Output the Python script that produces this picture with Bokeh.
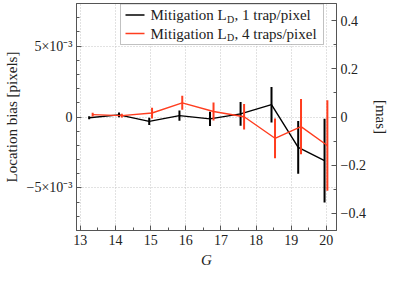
from bokeh.plotting import figure
from bokeh.models import (ColumnDataSource, Range1d, LinearAxis, SingleIntervalTicker,
                          CustomJSTickFormatter, BoxAnnotation, Label)
from bokeh.embed import file_html
from bokeh.resources import INLINE

# ---- data ----
g_1trap = [13.25, 14.10, 14.96, 15.82, 16.69, 17.56, 18.44, 19.20, 19.95]
bias_1trap = [-0.05e-3, 0.15e-3, -0.31e-3, 0.10e-3, -0.13e-3, 0.22e-3, 0.87e-3, -2.14e-3, -3.08e-3]
err_1trap = [0.10e-3, 0.16e-3, 0.25e-3, 0.36e-3, 0.50e-3, 0.84e-3, 1.25e-3, 1.86e-3, 2.95e-3]

g_4trap = [13.35, 14.18, 15.04, 15.90, 16.79, 17.66, 18.54, 19.28, 20.03]
bias_4trap = [0.17e-3, 0.10e-3, 0.28e-3, 1.00e-3, 0.39e-3, 0.02e-3, -1.50e-3, -0.68e-3, -2.01e-3]
err_4trap = [0.13e-3, 0.13e-3, 0.38e-3, 0.49e-3, 0.63e-3, 0.90e-3, 1.40e-3, 1.95e-3, 3.19e-3]

left_tick_values = [-5e-3, 0.0, 5e-3]
left_tick_labels = ["\u22125\u00d710\u207b\u00b3", "0", "5\u00d710\u207b\u00b3"]
legend_labels = ["1 trap/pixel", "4 traps/pixel"]

x_limits = (12.89, 20.29)
y_limits = (-8e-3, 8e-3)
mas_limits = (-0.472, 0.472)

BLACK = "#000000"
RED = "#ff3d1f"
FONT = "Liberation Serif"
AXC = "#555555"
TXT = "#222222"

# ---- layout ----
W, H = 391, 276
BL, BR, BT, BB = 72, 54, 3, 46
FW, FH = W - BL - BR, H - BT - BB

p = figure(width=W, height=H, output_backend="svg", toolbar_location=None,
           x_range=Range1d(*x_limits), y_range=Range1d(*y_limits),
           min_border_left=BL, min_border_right=BR, min_border_top=BT, min_border_bottom=BB)
p.extra_y_ranges = {"mas": Range1d(*mas_limits)}
p.outline_line_color = AXC
p.outline_line_width = 1
p.background_fill_color = "white"
p.border_fill_color = "white"

right = LinearAxis(y_range_name="mas", axis_label="[mas]",
                   ticker=SingleIntervalTicker(interval=0.2, num_minor_ticks=2))
right.formatter = CustomJSTickFormatter(code="""
    if (Math.abs(tick) < 1e-9) return "0";
    return tick.toFixed(1).replace("-", "\\u2212");
""")
p.add_layout(right, "right")

# axes
p.xaxis.ticker = SingleIntervalTicker(interval=1, num_minor_ticks=2)
p.yaxis[0].ticker = SingleIntervalTicker(interval=5e-3, num_minor_ticks=5)
p.yaxis[0].formatter = CustomJSTickFormatter(
    args=dict(vals=left_tick_values, labs=left_tick_labels),
    code="""
    for (let i = 0; i < vals.length; i++) {
        if (Math.abs(vals[i] - tick) < 1e-9) return labs[i];
    }
    return "";
    """)
p.xaxis.axis_label = "G"
p.yaxis[0].axis_label = "Location bias [pixels]"

p.axis.axis_line_color = AXC
p.axis.major_tick_line_color = AXC
p.axis.minor_tick_line_color = AXC
p.axis.major_tick_in = 5
p.axis.major_tick_out = 0
p.axis.minor_tick_in = 3
p.axis.minor_tick_out = 0
p.axis.major_label_text_font = FONT
p.axis.major_label_text_font_size = "14px"
p.axis.major_label_text_color = TXT
p.axis.axis_label_text_font = FONT
p.axis.axis_label_text_font_size = "15px"
p.axis.axis_label_text_font_style = "normal"
p.axis.axis_label_text_color = TXT
p.axis.major_label_standoff = 4
p.axis.axis_label_standoff = 4
p.xaxis.axis_label_text_font_style = "italic"

p.grid.grid_line_color = "#c4c4c4"
p.grid.grid_line_dash = "1 2"
p.grid.grid_line_width = 1

# ---- data glyphs ----
def add_series(g, b, e, color):
    src = ColumnDataSource(dict(
        x=g, y=b,
        lo=[bi - ei for bi, ei in zip(b, e)],
        hi=[bi + ei for bi, ei in zip(b, e)]))
    p.line("x", "y", source=src, line_color=color, line_width=1.4)
    p.segment(x0="x", y0="lo", x1="x", y1="hi", source=src, line_color=color, line_width=2)

add_series(g_1trap, bias_1trap, err_1trap, BLACK)
add_series(g_4trap, bias_4trap, err_4trap, RED)

# ---- legend (drawn manually to allow the subscript D) ----
box_right = FW - 18
box_left = box_right - 203
box_top = FH - 0.5
box_bottom = FH - 41
p.add_layout(BoxAnnotation(left=box_left, right=box_right, top=box_top, bottom=box_bottom,
                           left_units="screen", right_units="screen",
                           top_units="screen", bottom_units="screen",
                           fill_color="white", fill_alpha=1.0,
                           line_color="#333333", line_width=1))
rows = [FH - 11.5, FH - 30]
colors = [BLACK, RED]
for row_y, col, lab in zip(rows, colors, legend_labels):
    p.add_layout(BoxAnnotation(left=box_left + 5, right=box_left + 24,
                               top=row_y + 0.8, bottom=row_y - 0.8,
                               left_units="screen", right_units="screen",
                               top_units="screen", bottom_units="screen",
                               fill_color=col, fill_alpha=1.0, line_color=None))
    tx = box_left + 30
    p.add_layout(Label(x=tx, y=row_y, x_units="screen", y_units="screen",
                       text="Mitigation L", text_font=FONT, text_font_size="15px",
                       text_baseline="middle", text_align="left", text_color=TXT))
    p.add_layout(Label(x=tx + 76.5, y=row_y - 4, x_units="screen", y_units="screen",
                       text="D", text_font=FONT, text_font_size="10px",
                       text_baseline="middle", text_align="left", text_color=TXT))
    p.add_layout(Label(x=tx + 84, y=row_y, x_units="screen", y_units="screen",
                       text=", " + lab, text_font=FONT, text_font_size="15px",
                       text_baseline="middle", text_align="left", text_color=TXT))

open("out.html", "w").write(file_html(p, INLINE))
